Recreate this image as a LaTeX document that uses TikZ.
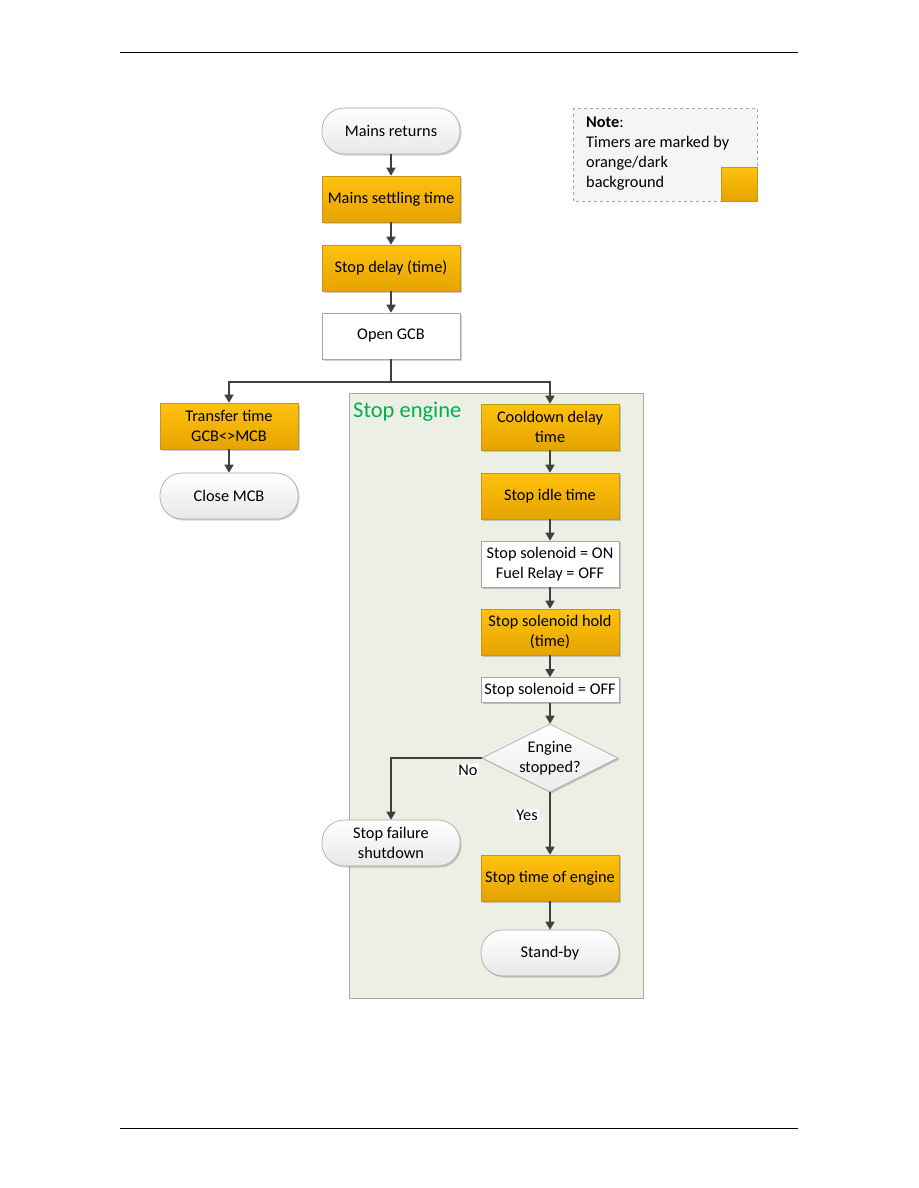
\documentclass[tikz,border=0pt]{standalone}
\usepackage{fontspec}
\setmainfont{Carlito}
\usetikzlibrary{arrows.meta,shapes.geometric,shadows}
\definecolor{timerA}{HTML}{FFC20E}
\definecolor{timerB}{HTML}{E6A300}
\definecolor{timerE}{HTML}{C4961A}
\definecolor{grpfill}{HTML}{ECEFE3}
\definecolor{grpline}{HTML}{A8AC9E}
\definecolor{grpgreen}{HTML}{00B050}
\definecolor{arrowc}{HTML}{404040}
\tikzset{
  x=1pt,y=-1pt,
  every node/.style={font=\fontsize{16.3}{20}\selectfont, align=center},
  base/.style={minimum width=138pt, minimum height=46pt, inner sep=2pt,
    drop shadow={shadow xshift=1.5pt,shadow yshift=-1.5pt,fill=black,opacity=0.18}},
  timer/.style={base, rectangle, draw=timerE, line width=0.6pt, top color=timerA, bottom color=timerB},
  plain/.style={base, rectangle, draw=gray!70, line width=0.6pt, fill=white},
  term/.style={base, rectangle, rounded corners=22pt, draw=gray!70, line width=0.6pt, top color=white, bottom color=gray!18},
  small/.style={plain, minimum height=25pt},
  dec/.style={diamond, aspect=2, minimum width=136pt, minimum height=68pt, inner sep=0pt, draw=gray!70, line width=0.6pt, top color=white, bottom color=gray!15,
    drop shadow={shadow xshift=1.5pt,shadow yshift=-1.5pt,fill=black,opacity=0.18}},
  flow/.style={draw=arrowc, line width=1.5pt, -{Triangle[width=9pt,length=8pt]}},
  lbl/.style={fill=white, inner sep=1pt}
}
\begin{document}
\begin{tikzpicture}
\useasboundingbox (0,0) rectangle (918,1188);
\fill[white] (0,0) rectangle (918,1188);
% header / footer rules
\draw[line width=0.8pt] (120,52) -- (798,52);
\draw[line width=0.8pt] (120,1128) -- (798,1128);

% group
\draw[grpline, fill=grpfill, line width=0.8pt] (349,393) rectangle (643,998);
\node[anchor=north west, text=grpgreen, font=\fontsize{22.5}{26}\selectfont, inner sep=0pt] (grp) at (353,402) {Stop engine};

% note
\draw[gray!70, dashed, fill=gray!8, line width=0.6pt] (573,108) rectangle (757,201);
\node[anchor=north west, align=left, inner sep=0pt, font=\fontsize{16.3}{19.8}\selectfont] (note) at (586,117)
  {\textbf{Note}:\\Timers are marked by\\orange/dark\\background};
\node[rectangle, draw=timerE, line width=0.6pt, top color=timerA, bottom color=timerB, minimum width=36pt, minimum height=34pt, inner sep=0pt] (swatch) at (739,184) {};

% main column
\node[term]  (mr)  at (391,131) {Mains returns};
\node[timer] (mst) at (391,199) {Mains settling time};
\node[timer] (sd)  at (391,268) {Stop delay (time)};
\node[plain] (og)  at (391,336) {Open GCB};

% left branch
\node[timer] (tt)  at (229,426) {Transfer time\\GCB<>MCB};
\node[term]  (cm)  at (229,496) {Close MCB};

% right branch
\node[timer] (cd)  at (550,427) {Cooldown delay\\time};
\node[timer] (si)  at (550,496) {Stop idle time};
\node[plain] (ss)  at (550,564) {Stop solenoid = ON\\Fuel Relay = OFF};
\node[timer] (sh)  at (550,632) {Stop solenoid hold\\(time)};
\node[small] (so)  at (550,690) {Stop solenoid = OFF};
\node[dec]   (es)  at (550,758) {Engine\\stopped?};
\node[term]  (sf)  at (391,843) {Stop failure\\shutdown};
\node[timer] (ste) at (550,878) {Stop time of engine};
\node[term]  (sb)  at (550,953) {Stand-by};

\coordinate (split) at (391,382);

\draw[flow] (mr) -- (mst);
\draw[flow] (mst) -- (sd);
\draw[flow] (sd) -- (og);
\draw[flow] (og.south) -- (split) -| (tt.north);
\draw[flow] (split) -| (cd.north);
\draw[flow] (tt) -- (cm);
\draw[flow] (cd) -- (si);
\draw[flow] (si) -- (ss);
\draw[flow] (ss) -- (sh);
\draw[flow] (sh) -- (so);
\draw[flow] (so) -- (es);
\draw[flow] (es.west) -| (sf.north);
\draw[flow] (es.south) -- (ste.north);
\draw[flow] (ste) -- (sb);
\node[lbl] (no)  at (468,770) {No};
\node[lbl] (yes) at (527,815) {Yes};
\end{tikzpicture}
\end{document}
